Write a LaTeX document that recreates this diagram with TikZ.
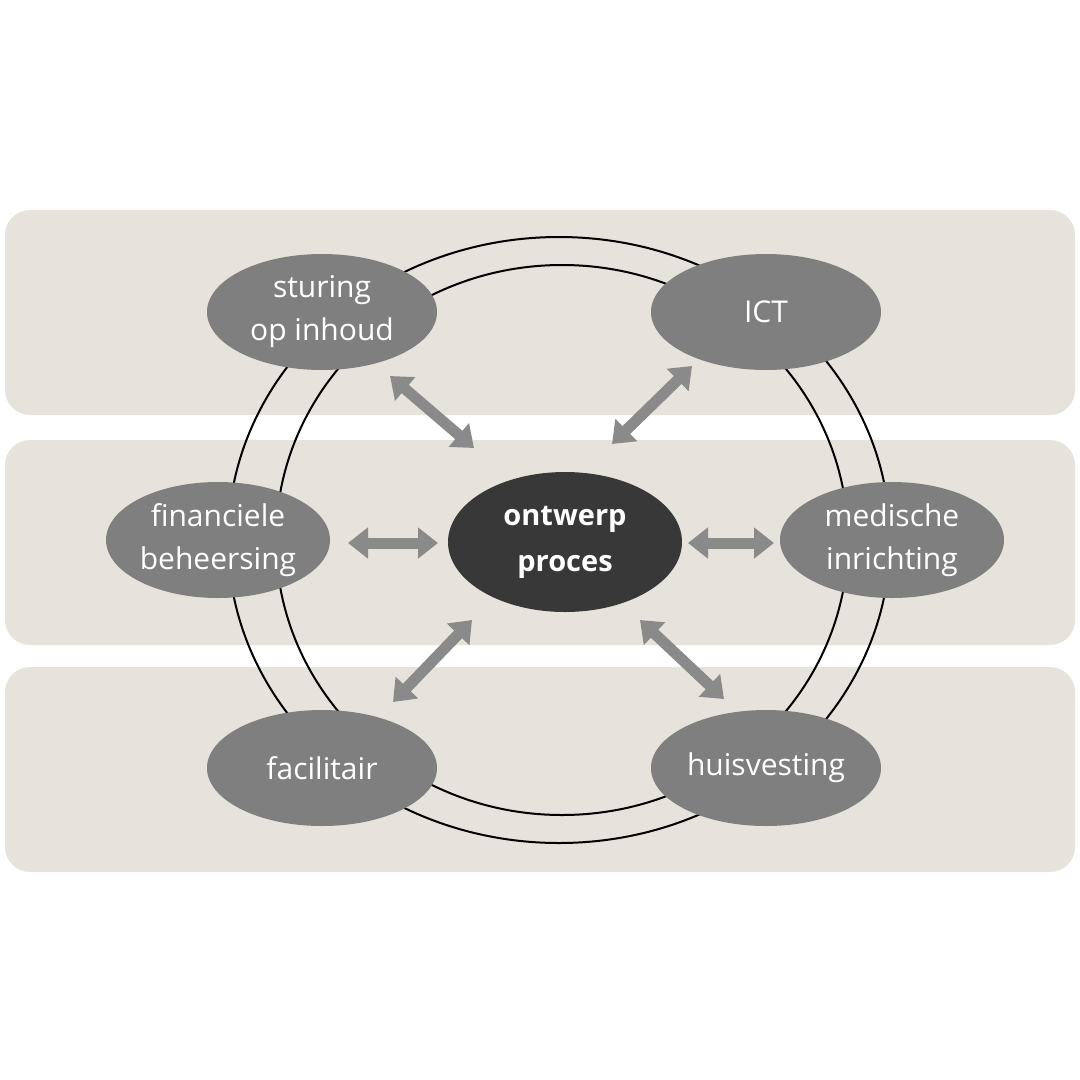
\documentclass[tikz,border=0pt]{standalone}
\usepackage{fontspec}
\setmainfont{Open Sans}
\usetikzlibrary{arrows.meta,shapes.geometric}
\definecolor{band}{HTML}{E6E3DC}
\definecolor{og}{HTML}{7F7F7F}
\definecolor{dk}{HTML}{383838}
\definecolor{ar}{HTML}{8A8A8A}
\begin{document}
\begin{tikzpicture}[x=1pt,y=-1pt,
 el/.style={ellipse,fill=og,text=white,minimum width=230pt,minimum height=116pt,inner sep=0pt,align=center,font=\fontsize{30}{43}\selectfont},
 da/.style={draw=ar,line width=11pt,{Triangle[length=20pt,width=30pt]}-{Triangle[length=20pt,width=30pt]}}]
\path[use as bounding box] (0,0) rectangle (1080,1080);
\fill[white] (0,0) rectangle (1080,1080);
\foreach \a/\b in {210/415,440/645,667/872}
  \fill[band,rounded corners=25pt] (5,\a) rectangle (1075,\b);
\draw[line width=2pt] (559,540) ellipse [x radius=331, y radius=303];
\draw[line width=2pt] (562,540) ellipse [x radius=286, y radius=275];
\node[el] (s) at (322,312) {sturing\\op inhoud};
\node[el] (i) at (766,312) {ICT};
\node[el,minimum width=224pt] (f) at (218,540) {financiele\\beheersing};
\node[el,minimum width=224pt] (m) at (892,540) {medische\\inrichting};
\node[el] (fa) at (322,768) {facilitair};
\node[el] (h) at (766,768) {huisvesting};
\node[ellipse,fill=dk,text=white,minimum width=234pt,minimum height=140pt,inner sep=0pt,align=center,font=\fontsize{29}{46}\selectfont\bfseries] (c) at (565,542) {ontwerp\\proces};
\coordinate (a1) at (390,376); \coordinate (b1) at (474,448);
\coordinate (a2) at (692,366); \coordinate (b2) at (612,444);
\coordinate (a3) at (348,543); \coordinate (b3) at (438,543);
\coordinate (a4) at (688,543); \coordinate (b4) at (774,543);
\coordinate (a5) at (472,620); \coordinate (b5) at (393,702);
\coordinate (a6) at (640,620); \coordinate (b6) at (724,699);
\foreach \n in {1,...,6} \draw[da] (a\n) -- (b\n);
\end{tikzpicture}
\end{document}
